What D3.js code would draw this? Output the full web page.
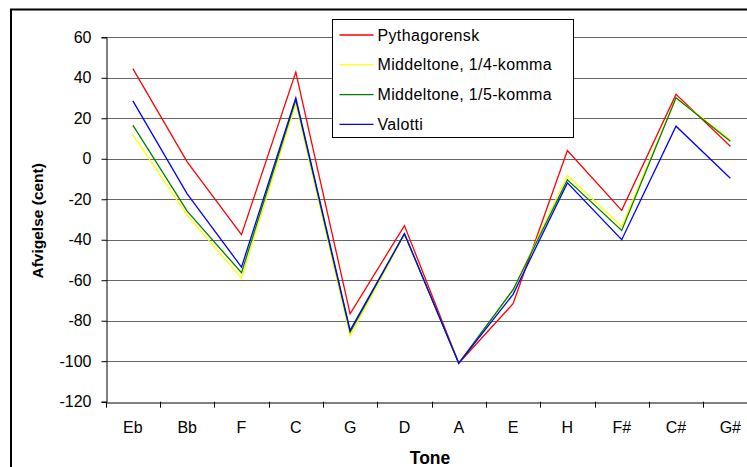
<!DOCTYPE html>
<html>
<head>
<meta charset="utf-8">
<script src="https://cdn.jsdelivr.net/npm/d3@7"></script>
<style>
  body { margin: 0; background: #fff; }
  svg text { font-family: "Liberation Sans", Arial, sans-serif; }
</style>
</head>
<body>
<div id="chart"></div>
<script>
// Data
const tones = ["Eb", "Bb", "F", "C", "G", "D", "A", "E", "H", "F#", "C#", "G#"];
const pythagorensk = [44.5, -1.5, -37.5, 42.8, -76.6, -33, -101, -71.6, 4.1, -25.5, 31.8, 6.2];
const middel14 = [11.9, -28, -59, 27.2, -87.5, -37.5, -101, -65, -8.2, -33.4, 30, 9.4];
const middel15 = [16.6, -25.9, -56.3, 29.1, -85.7, -37, -101, -64.7, -10.4, -35.4, 30.1, 8.7];
const valotti = [28.6, -17.3, -53.5, 30, -84.8, -37, -101, -67, -11.9, -40, 16.1, -9.6];
const yTicks = [60, 40, 20, 0, -20, -40, -60, -80, -100, -120];

const series = [
  { name: "Pythagorensk", values: pythagorensk, color: "#ff0000" },
  { name: "Middeltone, 1/4-komma", values: middel14, color: "#ffff00" },
  { name: "Middeltone, 1/5-komma", values: middel15, color: "#008000" },
  { name: "Valotti", values: valotti, color: "#0000ff" }
];

const width = 747, height = 467;
const plot = { left: 105.7, top: 37.3, right: 757.5, bottom: 401.7 };

const svg = d3.select("#chart").append("svg")
  .attr("width", width)
  .attr("height", height);

// Outer chart border (cropped on the right and bottom)
svg.append("rect")
  .attr("x", 11).attr("y", 9.5)
  .attr("width", 760).attr("height", 480)
  .attr("fill", "none").attr("stroke", "#000").attr("stroke-width", 2);

const x = d3.scaleBand().domain(tones).range([plot.left, plot.right]);
const y = d3.scaleLinear().domain([-120, 60]).range([plot.bottom, plot.top]);

// Gridlines
svg.append("g")
  .selectAll("line")
  .data(yTicks.filter(d => d !== -120))
  .enter().append("line")
  .attr("x1", plot.left).attr("x2", plot.right)
  .attr("y1", d => Math.round(y(d)) + 0.5).attr("y2", d => Math.round(y(d)) + 0.5)
  .attr("stroke", "#666").attr("stroke-width", 1);

// Y axis
const yAxis = svg.append("g")
  .attr("transform", `translate(${Math.round(plot.left) + 0.5},0)`)
  .call(d3.axisLeft(y).tickValues(yTicks).tickSize(5).tickPadding(10).tickFormat(d3.format("d")));
yAxis.select(".domain").attr("stroke", "#000");
yAxis.selectAll(".tick line").attr("stroke", "#000");
yAxis.selectAll(".tick text")
  .attr("font-size", 16).attr("fill", "#000")
  .text(d => d < 0 ? "-" + Math.abs(d) : d);

// X axis
const xAxis = svg.append("g")
  .attr("transform", `translate(0,${Math.round(plot.bottom) + 0.5})`)
  .call(d3.axisBottom(x).tickSize(0).tickPadding(19));
xAxis.select(".domain").attr("stroke", "#000");
xAxis.selectAll(".tick text")
  .attr("font-size", 16).attr("fill", "#000");
// tick marks between categories
svg.append("g")
  .selectAll("line")
  .data(tones)
  .enter().append("line")
  .attr("x1", d => Math.round(x(d)) + 0.5).attr("x2", d => Math.round(x(d)) + 0.5)
  .attr("y1", plot.bottom).attr("y2", plot.bottom + 6)
  .attr("stroke", "#000");

// Axis titles
svg.append("text")
  .attr("transform", `translate(43,${220.8}) rotate(-90)`)
  .attr("text-anchor", "middle")
  .attr("font-size", 15.5).attr("font-weight", "bold")
  .text("Afvigelse (cent)");

svg.append("text")
  .attr("x", 430)
  .attr("y", 464)
  .attr("text-anchor", "middle")
  .attr("font-size", 17.5).attr("font-weight", "bold")
  .text("Tone");

// Lines
const line = d3.line()
  .x((d, i) => x(tones[i]) + x.bandwidth() / 2)
  .y(d => y(d));

svg.append("g")
  .selectAll("path")
  .data(series)
  .enter().append("path")
  .attr("d", d => line(d.values))
  .attr("fill", "none")
  .attr("stroke", d => d.color)
  .attr("stroke-width", 1.3);

// Legend
const legend = svg.append("g").attr("transform", "translate(332.5,19.5)");
legend.append("rect")
  .attr("width", 241).attr("height", 118)
  .attr("fill", "#fff").attr("stroke", "#000").attr("stroke-width", 1);

const rows = legend.selectAll("g.row")
  .data(series)
  .enter().append("g")
  .attr("class", "row")
  .attr("transform", (d, i) => `translate(0,${15.5 + i * 29.8})`);

rows.append("line")
  .attr("x1", 7).attr("x2", 41)
  .attr("stroke", d => d.color).attr("stroke-width", 1.3);

rows.append("text")
  .attr("x", 45).attr("y", 5.5)
  .attr("font-size", 16)
  .style("letter-spacing", "0.35px")
  .text(d => d.name);
</script>
</body>
</html>
